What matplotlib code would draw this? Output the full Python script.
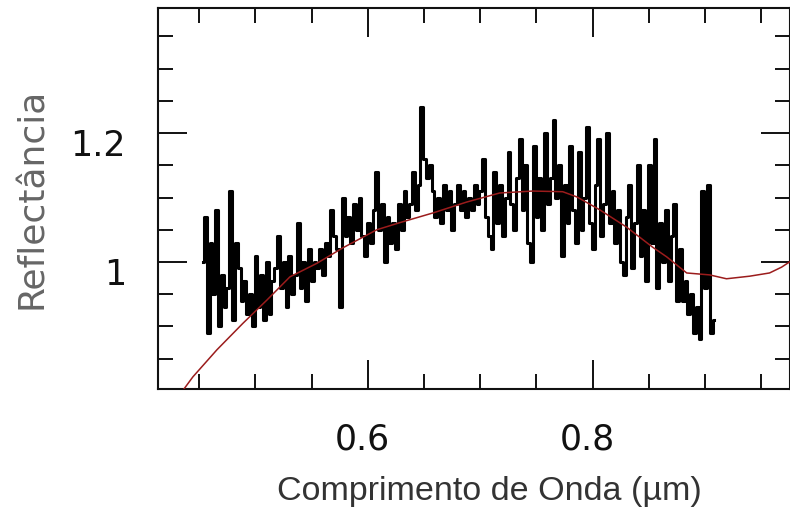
import numpy as np
import matplotlib
matplotlib.use("Agg")
import matplotlib.pyplot as plt
from matplotlib.ticker import MultipleLocator, FixedLocator
from matplotlib.transforms import ScaledTranslation

# observed spectrum, uniform wavelength grid
WL_START = 0.453
WL_STEP = 0.0025
refl = [
    1.00, 1.07, 0.89, 1.03, 0.95, 1.08, 0.90, 0.98, 0.93, 0.96,
    1.11, 0.91, 1.03, 0.99, 0.94, 0.97, 0.92, 0.95, 0.90, 1.01,
    0.93, 0.98, 0.91, 1.00, 0.92, 0.97, 0.99, 1.04, 0.96, 1.00,
    0.93, 1.01, 0.95, 0.98, 1.06, 0.96, 1.00, 0.94, 1.02, 0.97,
    1.00, 0.99, 1.02, 0.98, 1.03, 1.01, 1.08, 1.04, 1.02, 0.93,
    1.10, 1.04, 1.07, 1.03, 1.09, 1.05, 1.10, 1.04, 1.01, 1.06,
    1.03, 1.08, 1.14, 1.05, 1.09, 1.00, 1.07, 1.03, 1.06, 1.02,
    1.09, 1.05, 1.11, 1.07, 1.09, 1.14, 1.08, 1.12, 1.24, 1.16,
    1.13, 1.15, 1.11, 1.07, 1.10, 1.06, 1.12, 1.08, 1.11, 1.05,
    1.09, 1.12, 1.08, 1.11, 1.07, 1.10, 1.08, 1.12, 1.09, 1.11,
    1.16, 1.07, 1.04, 1.02, 1.14, 1.06, 1.12, 1.04, 1.10, 1.17,
    1.09, 1.05, 1.13, 1.19, 1.08, 1.15, 1.03, 1.00, 1.18, 1.07,
    1.13, 1.05, 1.20, 1.09, 1.13, 1.22, 1.10, 1.15, 1.01, 1.12,
    1.06, 1.18, 1.08, 1.03, 1.17, 1.05, 1.10, 1.21, 1.06, 1.02,
    1.12, 1.19, 1.04, 1.09, 1.20, 1.06, 1.11, 1.03, 1.08, 1.00,
    0.98, 1.07, 1.12, 0.99, 1.06, 1.15, 1.01, 1.08, 0.97, 1.15,
    1.03, 1.19, 0.96, 1.06, 1.00, 1.08, 0.97, 1.04, 1.09, 0.94,
    1.02, 0.94, 0.97, 0.92, 0.95, 0.89, 0.93, 0.88, 1.11, 0.96,
    1.12, 0.89, 0.91,
]

# fitted model curve
model_wl = [0.433, 0.4444, 0.4658, 0.4889, 0.5102, 0.5307, 0.5547, 0.5778,
            0.6080, 0.6284, 0.6578, 0.6880, 0.7173, 0.7467, 0.7733, 0.7858,
            0.8062, 0.8302, 0.8533, 0.8658, 0.8836, 0.9040, 0.9190, 0.9396,
            0.9573, 0.9680, 0.9750, 0.9800]
model_val = [0.795, 0.822, 0.864, 0.905, 0.941, 0.977, 0.998, 1.022,
             1.050, 1.061, 1.076, 1.093, 1.107, 1.110, 1.109, 1.101,
             1.081, 1.054, 1.023, 1.008, 0.983, 0.980, 0.974, 0.978,
             0.983, 0.992, 1.000, 1.005]

x_ticks = [0.6, 0.8]
x_ticklabels = ["0.6", "0.8"]
y_ticks = [1.0, 1.2]
y_ticklabels = ["1", "1.2"]

W, H, DPI = 790, 507, 100
fig = plt.figure(figsize=(W / DPI, H / DPI), dpi=DPI, facecolor="white")
ax = fig.add_axes([158 / W, 1 - 389 / H, 1 - 158 / W, (389 - 8) / H])

wl = WL_START + WL_STEP * np.arange(len(refl))
ax.plot(wl, refl, color="black", lw=2.2, drawstyle="steps-mid", zorder=3)
ax.plot(model_wl, model_val, color="#9b1c1c", lw=1.1, zorder=4)

ax.set_xlim(0.41333, 0.9755)
ax.set_ylim(0.8031, 1.3938)

ax.xaxis.set_major_locator(FixedLocator(x_ticks))
ax.set_xticklabels(x_ticklabels)
ax.xaxis.set_minor_locator(MultipleLocator(0.05))
ax.yaxis.set_major_locator(FixedLocator(y_ticks))
ax.set_yticklabels(y_ticklabels)
ax.yaxis.set_minor_locator(MultipleLocator(0.05))

for s in ax.spines.values():
    s.set_linewidth(1.5)
    s.set_color("#111111")

ax.tick_params(which="both", direction="in", top=True, right=True,
               width=1.4, color="#111111")
ax.tick_params(which="major", length=21)
ax.tick_params(which="minor", length=10.8)
ax.tick_params(axis="x", which="major", pad=24, labelsize=25, labelcolor="#111111")
ax.tick_params(axis="y", which="major", pad=23, labelsize=25, labelcolor="#111111")

# IDL-style label placement: nudge tick labels slightly
for lbl in ax.get_yticklabels():
    lbl.set_transform(lbl.get_transform() + ScaledTranslation(0, -9 / DPI, fig.dpi_scale_trans))
for lbl in ax.get_xticklabels():
    lbl.set_transform(lbl.get_transform() + ScaledTranslation(-5 / DPI, 0, fig.dpi_scale_trans))

fig.text(489 / W, 1 - 500 / H, "Comprimento de Onda (µm)", ha="center", va="baseline",
         fontsize=24.5, family=["Liberation Sans", "DejaVu Sans"], color="#333333")
fig.text(32 / W, 1 - 198 / H, "Reflectância", ha="center", va="center", rotation=90,
         fontsize=26, family=["DejaVu Sans"], color="#666666")

fig.savefig("out.png", dpi=DPI, facecolor="white")
